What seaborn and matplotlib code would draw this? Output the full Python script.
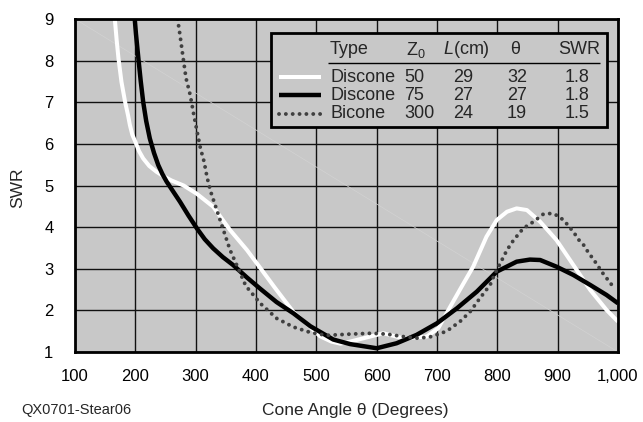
import matplotlib
matplotlib.use("Agg")
import matplotlib.pyplot as plt
import matplotlib.ticker as mticker
from matplotlib.lines import Line2D
from matplotlib.patches import Rectangle
import seaborn as sns

# --- data ---
white_x = [166, 169, 172, 177, 183, 188, 191, 195, 200, 206, 213, 223, 235, 247,
           260, 280, 302, 329, 357, 385, 407, 432, 462, 490, 506, 525, 540, 556,
           578, 611, 644, 683, 702, 722, 744, 760, 782, 799, 816, 832, 849, 871,
           898, 926, 954, 981, 1000]
white_y = [9.0, 8.5, 8.06, 7.49, 7.01, 6.68, 6.45, 6.22, 6.05, 5.83, 5.65, 5.47,
           5.33, 5.22, 5.12, 5.0, 4.8, 4.49, 3.93, 3.45, 3.02, 2.53, 1.96, 1.6,
           1.38, 1.25, 1.2, 1.25, 1.33, 1.45, 1.33, 1.37, 1.57, 2.09, 2.65, 3.05,
           3.77, 4.17, 4.37, 4.45, 4.41, 4.13, 3.69, 3.09, 2.49, 2.01, 1.73]

black_x = [199, 201, 205, 209, 213, 218, 224, 231, 238, 245, 252, 263, 274, 288,
           302, 315, 329, 345, 362, 385, 407, 434, 462, 490, 528, 556, 600, 633,
           666, 700, 733, 766, 799, 832, 854, 871, 898, 926, 954, 981, 1000]
black_y = [9.0, 8.65, 8.06, 7.5, 7.01, 6.55, 6.13, 5.78, 5.49, 5.27, 5.09, 4.85,
           4.61, 4.28, 3.97, 3.71, 3.49, 3.28, 3.09, 2.79, 2.52, 2.2, 1.93, 1.62,
           1.3, 1.19, 1.09, 1.21, 1.41, 1.69, 2.05, 2.45, 2.93, 3.17, 3.22, 3.21,
           3.05, 2.85, 2.61, 2.37, 2.17]

dotted_x = [270, 274, 279, 284, 291, 297, 303, 308, 314, 319, 325, 335, 346, 357,
            368, 383, 407, 434, 462, 490, 517, 556, 592, 617, 644, 669, 691, 716,
            738, 755, 771, 788, 795, 816, 827, 843, 860, 876, 890, 901, 911, 919,
            927, 934, 943, 950, 957, 965, 972, 979, 987, 994]
dotted_y = [9.0, 8.62, 8.09, 7.58, 7.17, 6.69, 6.25, 5.89, 5.57, 5.19, 4.85, 4.41,
            3.93, 3.45, 3.09, 2.59, 2.17, 1.81, 1.6, 1.47, 1.40, 1.43, 1.45, 1.43,
            1.37, 1.33, 1.37, 1.50, 1.73, 1.97, 2.29, 2.61, 2.85, 3.45, 3.69, 3.97,
            4.13, 4.31, 4.33, 4.27, 4.15, 4.01, 3.87, 3.71, 3.57, 3.41, 3.27, 3.11,
            2.95, 2.81, 2.67, 2.51]

x_ticks = [100, 200, 300, 400, 500, 600, 700, 800, 900, 1000]
y_ticks = [1, 2, 3, 4, 5, 6, 7, 8, 9]

legend_types = ["Discone", "Discone", "Bicone"]
legend_z0 = ["50", "75", "300"]
legend_len = ["29", "27", "24"]
legend_theta = ["32", "27", "19"]
legend_swr = ["1.8", "1.8", "1.5"]

# --- styling ---
sns.set_style("white")
plt.rcParams["font.family"] = ["Liberation Sans", "DejaVu Sans"]
plt.rcParams["mathtext.fontset"] = "custom"
plt.rcParams["mathtext.rm"] = "Liberation Sans"
plt.rcParams["mathtext.it"] = "Liberation Sans:italic"
plt.rcParams["lines.solid_joinstyle"] = "round"
plt.rcParams["lines.solid_capstyle"] = "butt"

W, H = 643, 422
fig = plt.figure(figsize=(W / 100, H / 100), dpi=100)
fig.patch.set_facecolor("white")


def fx(px):
    return px / W


def fy(py):
    return 1 - py / H


ax = fig.add_axes([fx(75), fy(352), fx(618) - fx(75), fy(19) - fy(352)])
ax.set_facecolor("#c8c8c8")

# faint diagonal streak present in the scanned original
ax.plot([0, 1], [1, 0], transform=ax.transAxes, color="#d2d2d2", lw=0.5, zorder=0.8)

dot_style = (0, (0.01, 1.75))
sns.lineplot(x=white_x, y=white_y, ax=ax, color="white", lw=2.9,
             sort=False, estimator=None)
sns.lineplot(x=black_x, y=black_y, ax=ax, color="black", lw=3.2,
             sort=False, estimator=None)
sns.lineplot(x=dotted_x, y=dotted_y, ax=ax, color="#404040", lw=2.8,
             linestyle=dot_style, dash_capstyle="round",
             sort=False, estimator=None)

ax.set_xlim(100, 1000)
ax.set_ylim(1, 9)
ax.set_xticks(x_ticks)
ax.set_yticks(y_ticks)
ax.xaxis.set_major_formatter(mticker.FuncFormatter(lambda v, p: f"{int(v):,}"))
ax.grid(True, color="#111111", lw=1)
ax.set_axisbelow(True)
for s in ax.spines.values():
    s.set_color("black")
    s.set_linewidth(2)
ax.tick_params(axis="both", direction="out", length=8.5, width=1,
               labelsize=12, colors="#333333", labelcolor="black")
ax.tick_params(axis="y", pad=7)
ax.tick_params(axis="x", pad=4)
ax.set_xlabel("")
ax.set_ylabel("")

fig.text(fx(355), fy(410), "Cone Angle θ (Degrees)", ha="center", va="center",
         fontsize=12.5)
fig.text(fx(18), fy(188), "SWR", ha="center", va="center", rotation=90,
         fontsize=12.5)
fig.text(fx(21), fy(410), "QX0701-Stear06", ha="left", va="center",
         fontsize=10.5)

# --- table-style legend ---
fig.patches.append(Rectangle((fx(271), fy(127)), fx(607) - fx(271), fy(33) - fy(127),
                             transform=fig.transFigure, facecolor="#c8c8c8",
                             edgecolor="black", lw=2, zorder=5))
fs = 13
hy = 50
fig.text(fx(330), fy(hy), "Type", ha="left", va="center", fontsize=fs, zorder=6)
fig.text(fx(406), fy(hy), "Z$_0$", ha="left", va="center", fontsize=fs, zorder=6)
fig.text(fx(466), fy(hy), "$\\mathit{L}$(cm)", ha="center", va="center",
         fontsize=fs, zorder=6)
fig.text(fx(515), fy(hy), "θ", ha="center", va="center", fontsize=fs, zorder=6)
fig.text(fx(579), fy(hy), "SWR", ha="center", va="center", fontsize=fs, zorder=6)
fig.lines.append(Line2D([fx(328), fx(600)], [fy(63), fy(63)],
                        transform=fig.transFigure, color="black", lw=1, zorder=6))

row_y = [77, 95, 114]
samples = [dict(color="white", lw=2.9, linestyle="-"),
           dict(color="black", lw=3.2, linestyle="-"),
           dict(color="#404040", lw=2.8, linestyle=dot_style,
                dash_capstyle="round")]
for i, ry in enumerate(row_y):
    fig.lines.append(Line2D([fx(279), fx(321)], [fy(ry), fy(ry)],
                            transform=fig.transFigure, zorder=6, **samples[i]))
    fig.text(fx(330), fy(ry), legend_types[i], ha="left", va="center",
             fontsize=fs, zorder=6)
    fig.text(fx(404), fy(ry), legend_z0[i], ha="left", va="center",
             fontsize=fs, zorder=6)
    fig.text(fx(463), fy(ry), legend_len[i], ha="center", va="center",
             fontsize=fs, zorder=6)
    fig.text(fx(517), fy(ry), legend_theta[i], ha="center", va="center",
             fontsize=fs, zorder=6)
    fig.text(fx(577), fy(ry), legend_swr[i], ha="center", va="center",
             fontsize=fs, zorder=6)

fig.savefig("out.png", dpi=100)
